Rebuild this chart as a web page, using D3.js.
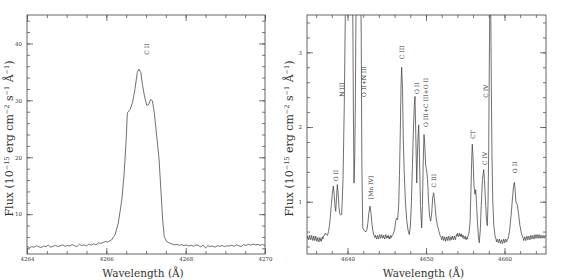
<!DOCTYPE html>
<html>
<head>
<meta charset="utf-8">
<script src="https://cdn.jsdelivr.net/npm/d3@7"></script>
<style>
  body { margin: 0; background: #fff; }
  svg text { font-family: "DejaVu Serif", serif; fill: #333; }
</style>
</head>
<body>
<div id="chart"></div>
<script>
// C II 4267 profile (wavelength, flux)
var leftSpectrum = [
  [4264.00,4.35],[4264.06,4.10],[4264.12,4.30],[4264.18,4.20],[4264.24,4.45],[4264.30,4.25],[4264.36,4.15],
  [4264.42,4.40],[4264.48,4.30],[4264.54,4.55],[4264.60,4.20],[4264.66,4.35],[4264.72,4.50],[4264.78,4.30],
  [4264.84,4.45],[4264.90,4.60],[4264.96,4.35],[4265.02,4.50],[4265.08,4.40],[4265.14,4.65],[4265.20,4.45],
  [4265.26,4.30],[4265.32,4.70],[4265.38,4.50],[4265.44,4.60],[4265.50,4.40],[4265.56,4.75],[4265.62,4.55],
  [4265.68,4.80],[4265.74,4.60],[4265.80,4.95],[4265.86,4.85],[4265.92,5.05],[4265.98,5.20],[4266.04,5.10],
  [4266.13,5.47],[4266.22,6.35],[4266.30,8.40],[4266.39,12.5],[4266.45,17.2],[4266.50,23.1],[4266.53,27.8],
  [4266.60,28.4],[4266.66,29.6],[4266.72,31.9],[4266.78,34.9],[4266.82,35.5],[4266.87,34.9],[4266.91,32.8],
  [4266.96,30.8],[4267.02,29.1],[4267.07,29.3],[4267.12,30.2],[4267.16,29.9],[4267.21,27.8],[4267.27,23.7],
  [4267.33,19.6],[4267.38,13.7],[4267.42,9.00],[4267.46,6.05],[4267.52,5.20],[4267.60,4.90],
  [4267.66,4.75],[4267.72,4.60],[4267.78,4.70],[4267.84,4.50],[4267.90,4.65],[4267.96,4.45],[4268.02,4.60],
  [4268.08,4.40],[4268.14,4.55],[4268.20,4.35],[4268.26,4.60],[4268.32,4.50],[4268.38,4.25],[4268.44,4.55],
  [4268.50,4.05],[4268.56,4.45],[4268.62,4.30],[4268.68,4.40],[4268.74,4.20],[4268.80,4.45],[4268.86,4.35],
  [4268.92,4.50],[4268.98,4.30],[4269.04,4.45],[4269.10,4.40],[4269.16,4.55],[4269.22,4.35],[4269.28,4.60],
  [4269.34,4.45],[4269.40,4.30],[4269.46,4.65],[4269.52,4.50],[4269.58,4.70],[4269.64,4.55],[4269.70,4.75],
  [4269.76,4.60],[4269.82,4.70],[4269.88,4.55],[4269.94,4.65],[4270.00,4.50]
];

// 4635-4665 region (wavelength, flux)
var rightSpectrum = [
  [4634.85,0.50],[4634.92,0.54],[4634.98,0.52],[4635.05,0.49],[4635.11,0.51],[4635.18,0.55],[4635.24,0.52],
  [4635.31,0.49],[4635.37,0.52],[4635.44,0.55],[4635.50,0.51],[4635.57,0.48],[4635.63,0.50],[4635.70,0.54],
  [4635.76,0.51],[4635.83,0.48],[4635.89,0.51],[4635.96,0.54],[4636.02,0.50],[4636.09,0.47],[4636.15,0.50],
  [4636.22,0.52],[4636.28,0.48],[4636.35,0.46],[4636.41,0.49],[4636.48,0.52],[4636.54,0.48],[4636.61,0.50],
  [4636.67,0.47],[4636.74,0.51],[4636.80,0.53],[4636.87,0.50],[4636.93,0.53],[4637.00,0.55],
  [4637.06,0.55],[4637.19,0.58],[4637.32,0.56],[4637.45,0.55],
  [4637.58,0.60],[4637.70,0.68],[4637.82,0.80],[4637.94,0.96],[4638.06,1.10],[4638.19,1.21],[4638.30,1.10],
  [4638.41,0.93],[4638.50,0.87],[4638.60,1.05],[4638.70,1.23],[4638.80,1.12],[4638.92,0.92],[4639.04,0.83],
  [4639.15,0.82],[4639.26,0.83],[4639.43,1.30],[4639.59,2.30],[4639.72,3.50],[4639.87,5.00],[4640.13,7.00],
  [4640.38,6.00],[4640.57,4.50],[4640.69,3.30],[4640.75,2.20],[4640.83,1.25],[4640.92,1.60],[4640.99,2.20],
  [4641.08,3.50],[4641.27,5.00],[4641.46,5.50],[4641.63,4.50],[4641.75,3.20],[4641.83,1.50],[4641.94,0.65],
  [4642.10,0.62],[4642.23,0.60],[4642.36,0.60],[4642.48,0.63],[4642.60,0.72],[4642.72,0.85],[4642.87,0.94],
  [4643.00,0.84],[4643.12,0.70],[4643.25,0.60],[4643.38,0.55],[4643.50,0.52],
  [4643.57,0.55],[4643.63,0.53],[4643.70,0.50],[4643.76,0.52],[4643.83,0.55],[4643.89,0.52],[4643.96,0.50],
  [4644.02,0.53],[4644.09,0.56],[4644.15,0.54],[4644.22,0.51],[4644.28,0.53],[4644.35,0.56],[4644.41,0.54],
  [4644.48,0.51],[4644.54,0.52],[4644.61,0.55],[4644.67,0.52],[4644.74,0.50],[4644.80,0.53],[4644.87,0.56],
  [4644.93,0.53],[4645.00,0.51],[4645.06,0.54],[4645.13,0.52],[4645.19,0.55],[4645.26,0.51],[4645.32,0.53],
  [4645.39,0.50],[4645.45,0.53],[4645.52,0.55],[4645.58,0.52],[4645.64,0.54],[4645.70,0.55],
  [4645.80,0.56],[4645.99,0.62],[4646.14,0.74],[4646.27,0.78],
  [4646.39,0.76],[4646.52,0.95],[4646.62,1.35],[4646.73,1.95],[4646.82,2.55],[4646.90,2.80],[4647.01,2.50],
  [4647.11,1.83],[4647.24,1.35],[4647.39,0.98],[4647.55,0.75],[4647.71,0.62],[4647.87,0.56],[4648.00,0.66],
  [4648.13,0.95],[4648.25,1.40],[4648.38,1.90],[4648.51,2.30],[4648.60,2.41],[4648.70,1.90],[4648.82,1.25],
  [4648.94,1.75],[4649.07,2.03],[4649.17,1.60],[4649.30,0.95],[4649.45,0.65],[4649.55,0.95],[4649.64,1.50],
  [4649.75,1.90],[4649.85,1.75],[4649.95,1.50],[4650.09,1.41],[4650.20,1.30],[4650.33,1.00],[4650.46,0.80],
  [4650.60,0.74],[4650.73,0.85],[4650.85,1.05],[4650.98,1.12],[4651.11,1.00],[4651.27,0.80],[4651.46,0.68],
  [4651.66,0.60],[4651.80,0.55],[4651.93,0.52],
  [4652.00,0.49],[4652.06,0.51],[4652.13,0.54],[4652.19,0.51],[4652.26,0.48],[4652.32,0.51],[4652.39,0.53],
  [4652.45,0.49],[4652.52,0.47],[4652.58,0.51],[4652.65,0.53],[4652.71,0.50],[4652.78,0.48],[4652.84,0.52],
  [4652.91,0.54],[4652.97,0.50],[4653.04,0.48],[4653.10,0.51],[4653.17,0.53],[4653.23,0.49],[4653.30,0.51],
  [4653.36,0.54],[4653.43,0.51],[4653.49,0.49],[4653.56,0.52],[4653.62,0.54],[4653.69,0.51],[4653.75,0.49],
  [4653.82,0.53],[4653.88,0.56],[4653.95,0.54],[4654.01,0.58],[4654.08,0.55],[4654.14,0.53],[4654.21,0.56],
  [4654.27,0.58],[4654.34,0.54],[4654.40,0.56],[4654.47,0.53],[4654.53,0.57],[4654.60,0.54],[4654.66,0.52],
  [4654.73,0.55],[4654.79,0.53],[4654.86,0.50],[4654.92,0.52],[4654.99,0.54],[4655.05,0.51],[4655.12,0.49],
  [4655.18,0.52],[4655.25,0.50],[4655.31,0.53],[4655.42,0.55],[4655.52,0.62],
  [4655.61,0.72],[4655.73,1.15],[4655.82,1.55],[4655.90,1.77],[4655.99,1.60],[4656.11,1.22],[4656.24,1.10],
  [4656.33,1.16],[4656.43,1.00],[4656.56,0.72],[4656.69,0.52],[4656.79,0.45],[4656.92,0.62],[4657.04,0.95],
  [4657.20,1.30],[4657.35,1.43],[4657.45,1.30],[4657.58,1.00],[4657.71,0.75],[4657.81,0.68],[4657.90,0.95],
  [4657.99,1.70],[4658.06,2.80],[4658.13,3.60],[4658.19,4.20],[4658.25,3.60],[4658.32,2.60],[4658.41,1.60],
  [4658.51,1.00],[4658.64,0.68],[4658.79,0.55],[4658.92,0.50],
  [4658.99,0.46],[4659.05,0.48],[4659.12,0.50],[4659.18,0.47],[4659.25,0.45],[4659.31,0.48],[4659.38,0.50],
  [4659.44,0.46],[4659.51,0.44],[4659.57,0.47],[4659.64,0.49],[4659.70,0.46],[4659.77,0.44],[4659.83,0.47],
  [4659.90,0.50],[4659.96,0.47],[4660.03,0.45],[4660.09,0.48],[4660.16,0.50],[4660.22,0.47],[4660.28,0.46],
  [4660.34,0.49],[4660.45,0.50],[4660.54,0.55],[4660.64,0.60],
  [4660.83,0.80],[4661.02,1.05],[4661.15,1.20],[4661.25,1.26],[4661.34,1.18],[4661.46,1.00],[4661.63,0.96],
  [4661.78,0.85],[4661.97,0.68],[4662.17,0.57],[4662.39,0.51],
  [4662.46,0.48],[4662.52,0.51],[4662.59,0.53],[4662.65,0.50],[4662.72,0.48],[4662.78,0.51],[4662.85,0.54],
  [4662.91,0.51],[4662.98,0.49],[4663.04,0.52],[4663.11,0.54],[4663.17,0.51],[4663.24,0.49],[4663.30,0.52],
  [4663.37,0.55],[4663.43,0.52],[4663.50,0.50],[4663.56,0.53],[4663.63,0.55],[4663.69,0.52],[4663.76,0.50],
  [4663.82,0.53],[4663.89,0.56],[4663.95,0.53],[4664.02,0.51],[4664.08,0.54],[4664.15,0.56],[4664.21,0.53],
  [4664.28,0.51],[4664.34,0.54],[4664.41,0.56],[4664.47,0.53],[4664.54,0.51],[4664.60,0.54],[4664.67,0.55],
  [4664.73,0.52],[4664.80,0.51],[4664.86,0.54],[4664.93,0.55],[4664.99,0.52],[4665.06,0.51],[4665.12,0.54],
  [4665.19,0.55],[4665.25,0.53]
];

// axis ranges and ticks
var leftXDomain = [4264, 4270];
var leftYDomain = [3, 45];
var leftXTicks = [4264, 4266, 4268, 4270];
var leftXMinor = d3.range(4264, 4270.01, 0.5);
var leftYTicks = [10, 20, 30, 40];
var leftYMinor = d3.range(4, 45, 2);

var rightXDomain = [4634.84, 4665.29];
var rightYDomain = [0.3, 3.5];
var rightXTicks = [4640, 4650, 4660];
var rightXMinor = d3.range(4636, 4665, 2);
var rightYTicks = [1, 2, 3];
var rightYMinor = d3.range(0.4, 3.45, 0.2);

// line identifications: label, wavelength, flux level of label centre
var leftIds = [["C II", 4267.02, 39.0]];
var rightIds = [
  ["O II", 4638.41, 1.35],
  ["N III", 4639.26, 2.50],
  ["O II+N III", 4642.01, 2.61],
  ["[Mn IV]", 4642.87, 1.19],
  ["C III", 4646.90, 3.00],
  ["O II", 4648.73, 2.52],
  ["O III+C III+O II", 4649.96, 2.33],
  ["C III", 4651.02, 1.28],
  ["CT", 4655.95, 1.90],
  ["C IV", 4657.52, 2.48],
  ["C IV", 4657.43, 1.58],
  ["O II", 4661.34, 1.46]
];

var width = 561, height = 280;

var svg = d3.select("#chart")
  .append("svg")
  .attr("width", width)
  .attr("height", height);

function drawPanel(id, box, spec, xDom, yDom, xT, xM, yT, yM, ids){
  var x = d3.scaleLinear().domain(xDom).range([box.left, box.right]);
  var y = d3.scaleLinear().domain(yDom).range([box.bottom, box.top]);

  var g = svg.append("g");

  g.append("clipPath").attr("id", "clip-" + id)
    .append("rect")
    .attr("x", box.left).attr("y", box.top)
    .attr("width", box.right - box.left).attr("height", box.bottom - box.top);

  // spectrum
  g.append("path")
    .datum(spec)
    .attr("clip-path", "url(#clip-" + id + ")")
    .attr("fill", "none")
    .attr("stroke", "#404040")
    .attr("stroke-width", 0.75)
    .attr("stroke-linejoin", "round")
    .attr("d", d3.line().x(function(d){ return x(d[0]); }).y(function(d){ return y(d[1]); }));

  // ticks on all four sides, pointing in
  var bottom = g.append("g").attr("transform", "translate(0," + box.bottom + ")");
  bottom.call(d3.axisBottom(x).tickValues(xM).tickSize(-3).tickFormat(""));
  bottom.append("g").call(d3.axisBottom(x).tickValues(xT).tickSize(-6).tickPadding(3).tickFormat(d3.format("d")));
  var top = g.append("g").attr("transform", "translate(0," + box.top + ")");
  top.call(d3.axisTop(x).tickValues(xM).tickSize(-3).tickFormat(""));
  top.append("g").call(d3.axisTop(x).tickValues(xT).tickSize(-6).tickFormat(""));
  var left = g.append("g").attr("transform", "translate(" + box.left + ",0)");
  left.call(d3.axisLeft(y).tickValues(yM).tickSize(-3).tickFormat(""));
  left.append("g").call(d3.axisLeft(y).tickValues(yT).tickSize(-6).tickPadding(5).tickFormat(d3.format("d")));
  var right = g.append("g").attr("transform", "translate(" + box.right + ",0)");
  right.call(d3.axisRight(y).tickValues(yM).tickSize(-3).tickFormat(""));
  right.append("g").call(d3.axisRight(y).tickValues(yT).tickSize(-6).tickFormat(""));

  g.selectAll(".domain").remove();
  g.selectAll(".tick line").attr("stroke", "#555").attr("stroke-width", 0.8);
  g.selectAll(".tick text")
    .style("font-family", "DejaVu Serif")
    .style("font-size", "5.5px")
    .attr("fill", "#333");

  // frame
  g.append("rect")
    .attr("x", box.left).attr("y", box.top)
    .attr("width", box.right - box.left).attr("height", box.bottom - box.top)
    .attr("fill", "none")
    .attr("stroke", "#555")
    .attr("stroke-width", 0.9);

  // line identifications
  g.selectAll(".ident")
    .data(ids)
    .enter()
    .append("text")
    .attr("class", "ident")
    .attr("transform", function(d){ return "translate(" + x(d[1]) + "," + y(d[2]) + ") rotate(-90)"; })
    .attr("text-anchor", "middle")
    .attr("dominant-baseline", "central")
    .style("font-size", "6px")
    .text(function(d){ return d[0]; });

  // x title
  g.append("text")
    .attr("x", (box.left + box.right) / 2 - 3)
    .attr("y", 277)
    .attr("text-anchor", "middle")
    .style("font-size", "10.5px")
    .text("Wavelength (Å)");

  // y title
  var yt = g.append("text")
    .attr("transform", "translate(" + (box.left - 14) + "," + ((box.top + box.bottom) / 2 + 4) + ") rotate(-90)")
    .attr("text-anchor", "middle")
    .style("font-size", "11px");
  yt.append("tspan").text("Flux (10");
  yt.append("tspan").attr("dy", -4).style("font-size", "6.5px").text("−15");
  yt.append("tspan").attr("dy", 4).text(" erg cm");
  yt.append("tspan").attr("dy", -4).style("font-size", "6.5px").text("−2");
  yt.append("tspan").attr("dy", 4).text(" s");
  yt.append("tspan").attr("dy", -4).style("font-size", "6.5px").text("−1");
  yt.append("tspan").attr("dy", 4).text(" Å");
  yt.append("tspan").attr("dy", -4).style("font-size", "6.5px").text("−1");
  yt.append("tspan").attr("dy", 4).text(")");
}

drawPanel("left", {left: 27, right: 265, top: 15, bottom: 254},
  leftSpectrum, leftXDomain, leftYDomain, leftXTicks, leftXMinor, leftYTicks, leftYMinor, leftIds);
drawPanel("right", {left: 307, right: 546, top: 15, bottom: 254},
  rightSpectrum, rightXDomain, rightYDomain, rightXTicks, rightXMinor, rightYTicks, rightYMinor, rightIds);
</script>
</body>
</html>
